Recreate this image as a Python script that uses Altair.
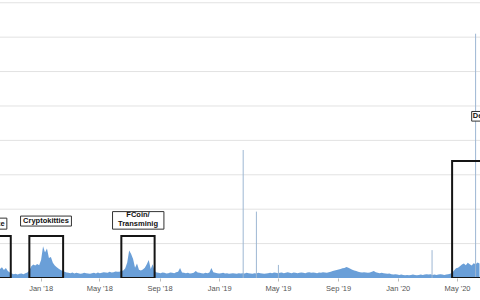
import altair as alt
import pandas as pd

# ---- base daily-ish series (one value every 4 days from 2017-10-10) ----
base_start = "2017-10-10"
base_values = [
    2.6, 3.1, 2.3, 2.9, 2.0, 1.6,
    1.3, 1.1, 1.2, 1.0, 1.2, 1.3, 1.1, 1.4, 1.6,
    2.2, 3.4, 3.9, 3.6, 4.1, 3.7, 5.2, 9.2, 7.4, 8.6, 5.8, 6.1, 4.4, 3.6, 3.1, 2.7, 2.3, 2.0,
    1.8, 1.6, 1.5, 1.4, 1.6, 1.3, 1.5, 1.4, 1.2, 1.3, 1.5, 1.4, 1.3, 1.2, 1.4, 1.5, 1.3, 1.6,
    1.4, 1.5, 1.7, 1.6, 1.5, 1.8, 1.6, 1.7, 1.9, 1.8,
    1.8, 2.0, 2.2, 2.8, 4.5, 8.0, 7.0, 5.5, 3.0, 4.2, 2.4, 2.2, 2.5, 3.0, 4.0, 5.2, 2.6, 4.0, 2.0,
    1.6, 1.5, 1.4, 1.6, 1.5, 1.3, 1.4, 1.6, 1.5, 1.4, 1.7, 1.8, 2.9, 1.6, 1.5, 1.4, 1.5, 1.3,
    1.4, 1.5, 2.0, 1.6, 1.5, 1.4, 1.3, 1.5, 1.4, 1.6, 2.9, 1.7, 1.5, 1.4, 1.3, 1.4, 1.5, 1.3,
    1.4, 1.2, 1.3, 1.4, 1.3, 1.2, 1.4, 1.3,
    1.4, 1.3, 1.5, 1.4, 1.3, 1.2, 1.4, 1.3, 1.5, 1.4, 1.3, 1.2, 1.3, 1.4, 1.5, 1.4, 1.6, 1.5,
    1.4, 1.5, 1.6, 1.4, 1.5, 1.7, 1.5, 1.4, 1.6, 1.5, 1.4, 1.5, 1.6, 1.5, 1.4, 1.6, 1.7, 1.5,
    1.6, 1.5, 1.4, 1.6, 1.5, 1.7, 1.6, 1.5, 1.7,
    1.8, 2.0, 2.2, 2.3, 2.5, 2.6, 2.8, 2.9, 3.2, 3.0, 2.7, 2.4, 2.2, 2.0, 1.8, 1.7,
    1.6, 1.7, 1.6, 1.5, 1.6, 1.8, 2.0, 1.7, 1.5, 1.4, 1.5, 1.4, 1.3, 1.2, 1.3, 1.1, 1.0, 1.1,
    1.0, 0.9, 1.0, 0.9, 0.8, 0.9, 0.8, 0.9, 1.0, 0.9, 0.8, 0.9, 1.0, 0.9, 1.0, 1.1, 1.0, 1.1,
    0.9, 1.0, 0.9, 1.0, 1.1, 1.0, 0.9, 1.0, 1.1, 1.2, 1.5,
    2.2, 2.8, 3.0, 3.4, 3.9, 4.2, 3.7, 4.4, 4.0, 3.6, 4.3, 4.0, 4.5, 4.2,
]

# ---- single-day spikes ----
spike_dates = ["2019-02-19", "2019-03-18", "2019-05-02", "2020-03-11", "2020-06-08"]
spike_values = [37.2, 19.3, 3.8, 8.1, 71.0]

# ---- highlighted regions ----
region_start = ["2017-09-01", "2017-12-09", "2018-06-15", "2020-04-21"]
region_end = ["2017-11-01", "2018-02-16", "2018-08-22", "2020-08-01"]
region_top = [12.2, 12.2, 12.2, 34.0]

# ---- label boxes ----
label_start = ["2017-08-01", "2017-11-21", "2018-05-28", "2020-05-31"]
label_end = ["2017-10-24", "2018-03-05", "2018-09-10", "2020-07-31"]
label_low = [14.2, 15.1, 14.2, 45.6]
label_high = [17.4, 18.0, 19.3, 48.4]

# ---- label texts ----
text_lines = ["ICO Craze", "Cryptokitties", "FCoin/", "Transminig", "DeFi"]
text_dates = ["2017-09-13", "2018-01-12", "2018-07-19", "2018-07-19", "2020-06-19"]
text_values = [15.8, 16.6, 18.2, 15.6, 47.0]

# ---- axis ticks / grid ----
tick_dates = ["2018-01-01", "2018-05-01", "2018-09-01", "2019-01-01",
              "2019-05-01", "2019-09-01", "2020-01-01", "2020-05-01"]
grid_values = [10, 20, 30, 40, 50, 60, 70, 80]

base_df = pd.DataFrame({
    "date": pd.date_range(base_start, periods=len(base_values), freq="4D"),
    "value": base_values,
})
spike_df = pd.DataFrame({"date": pd.to_datetime(spike_dates), "value": spike_values})
region_df = pd.DataFrame({
    "start": pd.to_datetime(region_start), "end": pd.to_datetime(region_end),
    "top": region_top, "bottom": [0] * len(region_top),
})
label_df = pd.DataFrame({
    "start": pd.to_datetime(label_start), "end": pd.to_datetime(label_end),
    "low": label_low, "high": label_high,
})
text_df = pd.DataFrame({"date": pd.to_datetime(text_dates), "value": text_values, "text": text_lines})
grid_df = pd.DataFrame({"value": grid_values})


def dt(s):
    t = pd.Timestamp(s)
    return alt.DateTime(year=t.year, month=t.month, date=t.day)


x_scale = alt.Scale(domain=[dt("2017-10-10"), dt("2020-06-17")], nice=False)
y_scale = alt.Scale(domain=[0, 80.8], nice=False, zero=False)

x_axis = alt.Axis(
    title=None, values=[dt(d) for d in tick_dates], format="%b '%y",
    labelFontSize=7.5, labelColor="#555", labelFont="Liberation Sans",
    tickSize=3, tickColor="#bbb", domain=False, grid=False, labelPadding=3,
)

grid = alt.Chart(grid_df).mark_rule(color="#e2e2e2", strokeWidth=1).encode(
    y=alt.Y("value:Q", scale=y_scale, axis=None),
)

area = alt.Chart(base_df).mark_area(color="#6a9fd8", clip=True).encode(
    x=alt.X("date:T", scale=x_scale, axis=x_axis),
    y=alt.Y("value:Q", scale=y_scale, axis=None),
)

spikes = alt.Chart(spike_df).mark_rule(color="#9db7d3", strokeWidth=1, clip=True).encode(
    x=alt.X("date:T", scale=x_scale),
    y=alt.Y("value:Q", scale=y_scale, axis=None),
    y2=alt.datum(0),
)

regions = alt.Chart(region_df).mark_rect(
    filled=False, color="#151515", strokeWidth=2, clip=True
).encode(
    x=alt.X("start:T", scale=x_scale), x2="end:T",
    y=alt.Y("bottom:Q", scale=y_scale, axis=None), y2="top:Q",
)

labels = alt.Chart(label_df).mark_rect(
    fill="white", stroke="#333", strokeWidth=1, clip=True
).encode(
    x=alt.X("start:T", scale=x_scale), x2="end:T",
    y=alt.Y("low:Q", scale=y_scale, axis=None), y2="high:Q",
)

texts = alt.Chart(text_df).mark_text(
    font="Liberation Sans", fontSize=7.5, fontWeight="bold", color="#111",
    align="center", baseline="middle", clip=True,
).encode(
    x=alt.X("date:T", scale=x_scale),
    y=alt.Y("value:Q", scale=y_scale, axis=None),
    text="text:N",
)

chart = alt.layer(grid, area, spikes, regions, labels, texts).properties(
    width=480, height=278,
    autosize=alt.AutoSizeParams(type="none"),
    padding={"left": 0, "top": 0, "right": 0, "bottom": 22},
    background="white",
).configure_view(strokeWidth=0)

chart.save("out.html", embed_options={"renderer": "svg", "actions": False})
